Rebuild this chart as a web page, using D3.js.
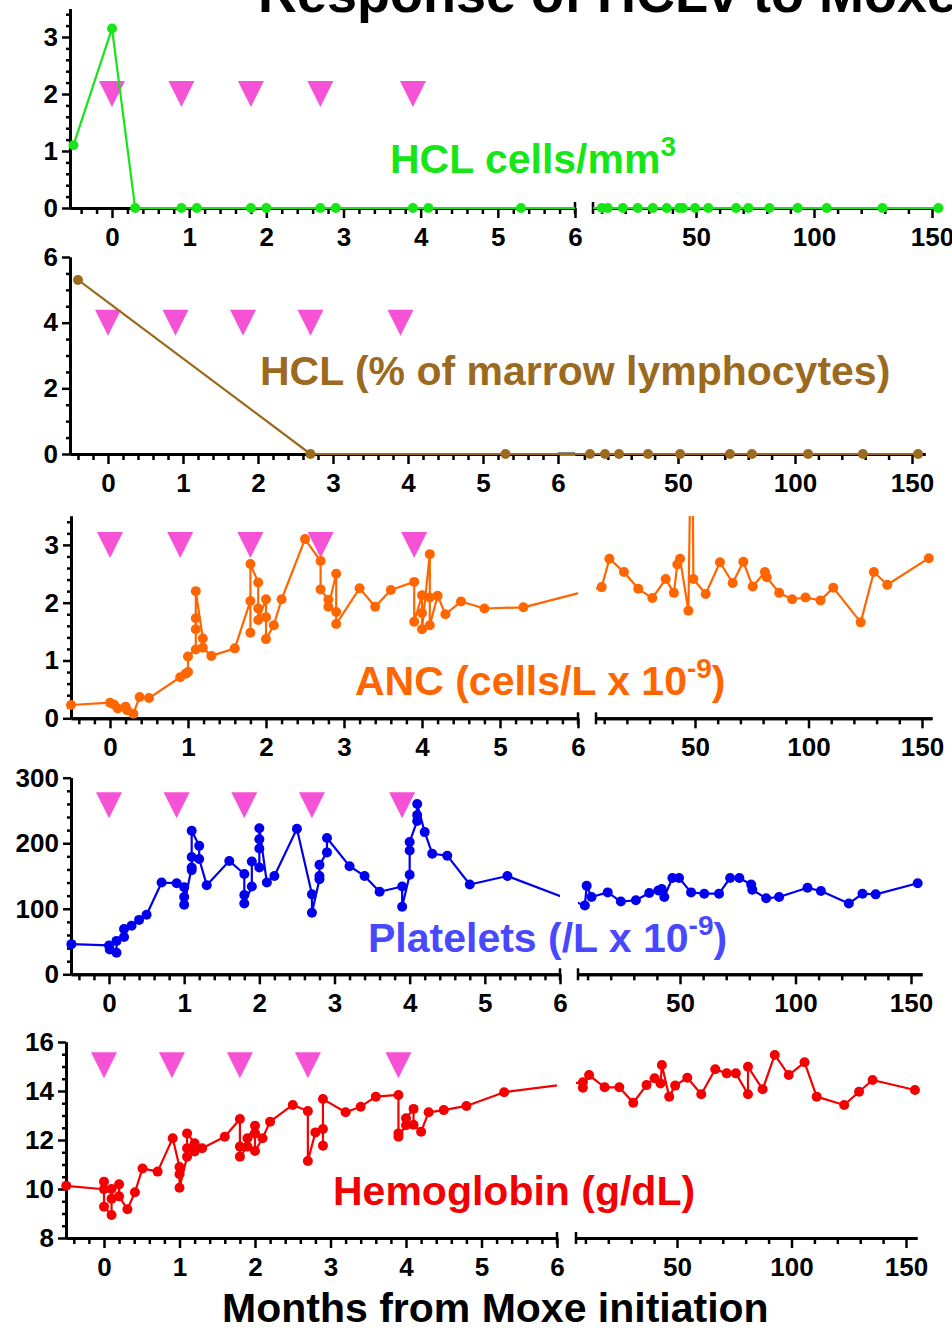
<!DOCTYPE html>
<html>
<head>
<meta charset="utf-8">
<script src="https://cdn.jsdelivr.net/npm/d3@7"></script>
<style>
  body { margin: 0; background: #fff; }
  svg { display: block; }
  text { font-family: "Liberation Sans", Arial, Helvetica, sans-serif; font-weight: bold; }
</style>
</head>
<body>
<div id="chart"></div>
<script>
// Start of each Moxe cycle (months) - pink markers
const cycleMonths = [0, 0.9, 1.8, 2.7, 3.9];

// HCL cells/mm3
const hclCellsMonths = [-0.5, 0, 0.3, 0.9, 1.1, 1.8, 2.0, 2.7, 2.9, 3.9, 4.1, 5.3,
  10.1, 12.6, 19, 25.3, 31.7, 37.6, 42.9, 44.4, 49.6, 55.2, 67, 72.2, 81.1, 93.1, 105.4, 129, 152.7];
const hclCellsValues = [1.1, 3.15, 0, 0, 0, 0, 0, 0, 0, 0, 0, 0,
  0, 0, 0, 0, 0, 0, 0, 0, 0, 0, 0, 0, 0, 0, 0, 0, 0];

// HCL % of marrow lymphocytes
const hclMarrowMonths = [-0.4, 2.7, 5.3, 12.4, 18.8, 24.8, 37.2, 50.9, 72.2, 81.6, 105.6, 129, 152.6];
const hclMarrowValues = [5.3, 0, 0, 0, 0, 0, 0, 0, 0, 0, 0, 0, 0];

// ANC (cells/L x 10^-9)
const ancMonths = [-0.5, 0, 0.05, 0.1, 0.2, 0.22, 0.3, 0.38, 0.5, 0.9, 0.97, 1.0, 1.0, 1.1, 1.1, 1.1, 1.1,
  1.19, 1.19, 1.3, 1.6, 1.8, 1.8, 1.8, 1.9, 1.9, 1.9, 2.0, 2.0, 2.0, 2.1, 2.2, 2.5, 2.7, 2.7, 2.8, 2.8,
  2.9, 2.9, 2.9, 3.2, 3.4, 3.6, 3.9, 3.9, 4.0, 4.0, 4.0, 4.1, 4.1, 4.1, 4.2, 4.3, 4.5, 4.8, 5.3,
  8.9, 12.3, 18.7, 25, 31.2, 37.1, 40.7, 42.2, 43.4, 47.1, 48.6, 49.3, 54.7, 61, 66.6, 71.3, 75.4,
  80.8, 81.6, 87.1, 92.8, 98.7, 105.3, 110.9, 123, 128.8, 134.7, 153];
const ancValues = [0.23, 0.27, 0.24, 0.17, 0.2, 0.14, 0.08, 0.37, 0.35, 0.71, 0.77, 0.8, 1.07, 1.19, 1.54, 1.73, 2.2,
  1.38, 1.22, 1.08, 1.21, 2.03, 1.48, 2.67, 2.35, 1.9, 1.7, 2.06, 1.75, 1.37, 1.61, 2.06, 3.1, 2.72, 2.23, 2.05, 1.93,
  2.5, 1.84, 1.63, 2.25, 1.93, 2.22, 2.36, 1.67, 2.13, 1.82, 1.54, 2.84, 2.09, 1.61, 2.12, 1.8, 2.02, 1.9, 1.92,
  2.27, 2.76, 2.53, 2.24, 2.08, 2.41, 2.17, 2.66, 2.76, 1.86, 6.0, 2.41, 2.15, 2.7, 2.34, 2.71, 2.28,
  2.53, 2.44, 2.17, 2.06, 2.09, 2.04, 2.26, 1.66, 2.53, 2.31, 2.77];

// Platelets (/L x 10^-9)
const pltMonths = [-0.5, 0, 0.01, 0.1, 0.1, 0.2, 0.2, 0.3, 0.4, 0.5, 0.7, 0.9, 1.0, 1.0, 1.0, 1.1, 1.1, 1.1, 1.1,
  1.2, 1.2, 1.3, 1.6, 1.8, 1.8, 1.8, 1.9, 1.9, 2.0, 2.0, 2.0, 2.0, 2.1, 2.2, 2.5, 2.7, 2.7, 2.8, 2.8, 2.8,
  2.9, 2.9, 3.2, 3.4, 3.6, 3.9, 3.9, 4.0, 4.0, 4.0, 4.1, 4.1, 4.1, 4.2, 4.3, 4.5, 4.8, 5.3,
  8.8, 9.6, 11.7, 18.7, 24.4, 30.9, 36.7, 40.6, 42.1, 43.2, 46.7, 49.6, 54.8, 60.5, 66.9, 71.7, 75.7,
  80.8, 81.3, 87.3, 92.9, 105.2, 111, 123.1, 129, 134.7, 152.9];
const pltValues = [46, 44, 38, 33, 51, 57, 69, 74, 83, 91, 140, 139, 133, 118, 106, 163, 159, 179, 219,
  196, 176, 136, 173, 153, 121, 108, 134, 172, 163, 192, 206, 223, 140, 150, 222, 122, 94, 145, 150, 167,
  186, 208, 165, 150, 126, 134, 103, 152, 189, 202, 234, 243, 260, 217, 184, 181, 137, 150,
  105, 135, 118, 125, 111, 113, 124, 128, 130, 118, 147, 147, 125, 123, 123, 147, 147,
  137, 129, 116, 118, 132, 127, 108, 123, 122, 139];

// Hemoglobin (g/dL)
const hgbMonths = [-0.5, 0, 0, 0, 0.1, 0.1, 0.1, 0.2, 0.2, 0.31, 0.41, 0.51, 0.71, 0.91, 1.0, 1.0, 1.0,
  1.1, 1.1, 1.1, 1.2, 1.2, 1.3, 1.6, 1.8, 1.8, 1.8, 1.9, 1.9, 2.0, 2.0, 2.0, 2.1, 2.2, 2.5, 2.7, 2.7,
  2.8, 2.9, 2.9, 2.9, 3.2, 3.4, 3.6, 3.9, 3.9, 3.9, 4.0, 4.0, 4.1, 4.1, 4.2, 4.3, 4.5, 4.8, 5.3,
  8.9, 8.9, 11.6, 18.4, 24.8, 30.9, 36.7, 40.2, 42.8, 43.4, 46.6, 49.2, 54.5, 60.6, 66.7, 71.7, 75.7,
  81, 81, 87.4, 92.7, 98.8, 105.7, 111, 123, 129.5, 135.4, 153.9];
const hgbValues = [10.13, 9.99, 10.3, 9.28, 8.94, 9.6, 10.0, 10.19, 9.7, 9.17, 9.87, 10.84, 10.71, 12.07, 10.9, 10.6, 10.05,
  11.32, 11.66, 12.27, 11.87, 11.53, 11.66, 12.13, 12.86, 11.73, 11.32, 11.73, 12.07, 12.58, 12.27, 11.55, 12.07, 12.75, 13.43, 13.18, 11.14,
  12.31, 12.45, 11.77, 13.67, 13.13, 13.36, 13.77, 13.84, 12.27, 12.13, 12.6, 12.89, 13.27, 12.62, 12.34, 13.13, 13.22, 13.39, 13.95,
  14.36, 14.13, 14.65, 14.15, 14.15, 13.52, 14.24, 14.52, 14.31, 15.06, 13.77, 14.22, 14.54, 13.87, 14.89, 14.72, 14.72,
  13.87, 14.99, 14.07, 15.47, 14.65, 15.17, 13.77, 13.43, 13.97, 14.45, 14.04];

// Tick labels
const leftTicks = [0, 1, 2, 3, 4, 5, 6];
const rightTicks = [50, 100, 150];

// Panel layout (pixel positions of each stacked graph)
const panels = [
  { months: hclCellsMonths, values: hclCellsValues, color: "#16e616", labelColor: "#16e616",
    yDomain: [0, 3.5], yTicks: [0, 1, 2, 3], yMinorStep: 0.2, marker: 2,
    y0: 208, yTop: 8.5, axisX: 70, x0: 112, x6: 575, rStart: 593, r50: 696, r150: 932, rEnd: 940, gap: true,
    label: [["HCL cells/mm"], ["3", "sup"]], labelX: 390, labelY: 173 },
  { months: hclMarrowMonths, values: hclMarrowValues, color: "#9b6a1f", labelColor: "#9b6a1f",
    yDomain: [0, 6], yTicks: [0, 2, 4, 6], yMinorStep: 0.5, marker: 4,
    y0: 454, yTop: 257, axisX: 70, x0: 108, x6: 558, rStart: 575, r50: 678, r150: 912, rEnd: 925, gap: false,
    label: [["HCL (% of marrow lymphocytes)"]], labelX: 260, labelY: 385 },
  { months: ancMonths, values: ancValues, color: "#ff6600", labelColor: "#ff6600",
    yDomain: [0, 3.5], yTicks: [0, 1, 2, 3], yMinorStep: 0.2, marker: 3,
    y0: 718.3, yTop: 516, axisX: 71, x0: 110, x6: 578, rStart: 596, r50: 695, r150: 922, rEnd: 932, gap: true,
    label: [["ANC (cells/L x 10"], ["-9", "sup"], [")"]], labelX: 355, labelY: 695 },
  { months: pltMonths, values: pltValues, color: "#0000ee", labelColor: "#4848ff",
    yDomain: [0, 300], yTicks: [0, 100, 200, 300], yMinorStep: 20, marker: 258,
    y0: 974.3, yTop: 777.7, axisX: 71, x0: 109, x6: 560, rStart: 578, r50: 680, r150: 911, rEnd: 922, gap: true,
    label: [["Platelets (/L x 10"], ["-9", "sup"], [")"]], labelX: 368, labelY: 952 },
  { months: hgbMonths, values: hgbValues, color: "#f40000", labelColor: "#f40000",
    yDomain: [8, 16], yTicks: [8, 10, 12, 14, 16], yMinorStep: 0.5, marker: 15.05,
    y0: 1238, yTop: 1042, axisX: 66, x0: 104, x6: 557, rStart: 576, r50: 677, r150: 906, rEnd: 917, gap: true,
    label: [["Hemoglobin (g/dL)"]], labelX: 333, labelY: 1205 }
];

const svg = d3.select("#chart").append("svg")
  .attr("width", 952)
  .attr("height", 1331);
const defs = svg.append("defs");

// Title (runs off the top of the picture, as in the original)
svg.append("text")
  .attr("x", 258)
  .attr("y", 12)
  .attr("font-size", 54)
  .text("Response of HCLv to Moxe");

const intFmt = d3.format("d");

function styleAxis(sel) {
  sel.select(".domain").attr("stroke", "#000").attr("stroke-width", 3);
  sel.selectAll(".tick line").attr("stroke", "#000").attr("stroke-width", 2.5);
  sel.selectAll(".tick text").attr("fill", "#000").attr("font-size", 26)
    .attr("font-family", "'Liberation Sans', Arial, sans-serif").attr("font-weight", "bold");
}

panels.forEach((p, i) => {
  const g = svg.append("g");
  const y = d3.scaleLinear().domain(p.yDomain).range([p.y0, p.yTop]);
  const xl = d3.scaleLinear().domain([0, 6]).range([p.x0, p.x6]);
  const xr = d3.scaleLinear().domain([50, 150]).range([p.r50, p.r150]);
  const xpos = m => (m <= 6 ? xl(m) : xr(m));

  const leftMin = xl.invert(p.axisX);
  const xlAxis = d3.scaleLinear().domain([leftMin, 6]).range([p.axisX, p.x6]);
  const xrAxis = d3.scaleLinear().domain([xr.invert(p.rStart), xr.invert(p.rEnd)]).range([p.rStart, p.rEnd]);

  // x axes (two segments with a break)
  const xg = g.append("g").attr("transform", `translate(0,${p.y0})`);
  const minorL = d3.range(-4, 31).map(k => k / 5).filter(v => v > leftMin && !Number.isInteger(v));
  const minorR = d3.range(10, 151, 10).filter(v => v % 50 !== 0);
  xg.append("g").call(d3.axisBottom(xlAxis).tickValues(minorL).tickSize(6).tickSizeOuter(0).tickFormat("")).call(styleAxis);
  xg.append("g").call(d3.axisBottom(xlAxis).tickValues(leftTicks).tickSize(10).tickSizeOuter(0).tickPadding(9.5).tickFormat(intFmt)).call(styleAxis);
  xg.append("g").call(d3.axisBottom(xrAxis).tickValues(minorR).tickSize(6).tickSizeOuter(0).tickFormat("")).call(styleAxis);
  xg.append("g").call(d3.axisBottom(xrAxis).tickValues(rightTicks).tickSize(10).tickSizeOuter(0).tickPadding(9.5).tickFormat(intFmt)).call(styleAxis);
  if (p.gap) {
    [p.x6, p.rStart].forEach(xx => {
      xg.append("line").attr("x1", xx).attr("x2", xx).attr("y1", -6).attr("y2", 6)
        .attr("stroke", "#000").attr("stroke-width", 2.5);
    });
  } else {
    xg.append("line").attr("x1", p.x6).attr("x2", p.rStart).attr("y1", 0).attr("y2", 0)
      .attr("stroke", "#000").attr("stroke-width", 3);
  }

  // y axis
  const yMinor = d3.range(p.yDomain[0], p.yDomain[1] + 1e-9, p.yMinorStep)
    .map(v => +v.toFixed(3)).filter(v => !p.yTicks.includes(v));
  const yg = g.append("g").attr("transform", `translate(${p.axisX},0)`);
  yg.append("g").call(d3.axisLeft(y).tickValues(yMinor).tickSize(4).tickSizeOuter(0).tickFormat("")).call(styleAxis);
  yg.append("g").call(d3.axisLeft(y).tickValues(p.yTicks).tickSize(8).tickSizeOuter(0).tickPadding(4).tickFormat(intFmt)).call(styleAxis);

  // series label
  const lab = g.append("text")
    .attr("x", p.labelX)
    .attr("y", p.labelY)
    .attr("font-size", 41)
    .attr("fill", p.labelColor);
  p.label.forEach(([t, kind]) => {
    if (kind === "sup") {
      lab.append("tspan").attr("dy", -17).attr("font-size", 28).text(t);
    } else {
      const ts = lab.append("tspan").text(t);
      if (lab.selectAll("tspan").size() > 1) ts.attr("dy", 17);
    }
  });

  // cycle markers
  g.selectAll(".marker")
    .data(cycleMonths)
    .enter().append("path")
    .attr("d", "M-13,-13L13,-13L0,13Z")
    .attr("transform", m => `translate(${xl(m)},${y(p.marker)})`)
    .attr("fill", "#f552d6");

  // clip: plot area minus the axis break
  const clip = defs.append("clipPath").attr("id", "clip" + i);
  clip.append("rect").attr("x", p.axisX - 8).attr("y", p.yTop)
    .attr("width", p.x6 - p.axisX + 8).attr("height", p.y0 - p.yTop + 12);
  const rx = p.gap ? p.rStart : p.x6;
  clip.append("rect").attr("x", rx).attr("y", p.yTop)
    .attr("width", p.rEnd - rx + 12).attr("height", p.y0 - p.yTop + 12);

  const pts = p.months.map((m, k) => ({ m: m, v: p.values[k] }));
  const line = d3.line().x(d => xpos(d.m)).y(d => y(d.v));

  g.append("path")
    .datum(pts)
    .attr("d", line)
    .attr("fill", "none")
    .attr("stroke", p.color)
    .attr("stroke-width", 2.2)
    .attr("stroke-linejoin", "round")
    .attr("clip-path", `url(#clip${i})`);

  g.selectAll(".dot")
    .data(pts.filter(d => d.v <= p.yDomain[1]))
    .enter().append("circle")
    .attr("cx", d => xpos(d.m))
    .attr("cy", d => y(d.v))
    .attr("r", 5)
    .attr("fill", p.color);
});

// x axis title
svg.append("text")
  .attr("x", 222)
  .attr("y", 1322)
  .attr("font-size", 41)
  .attr("fill", "#000")
  .text("Months from Moxe initiation");
</script>
</body>
</html>
